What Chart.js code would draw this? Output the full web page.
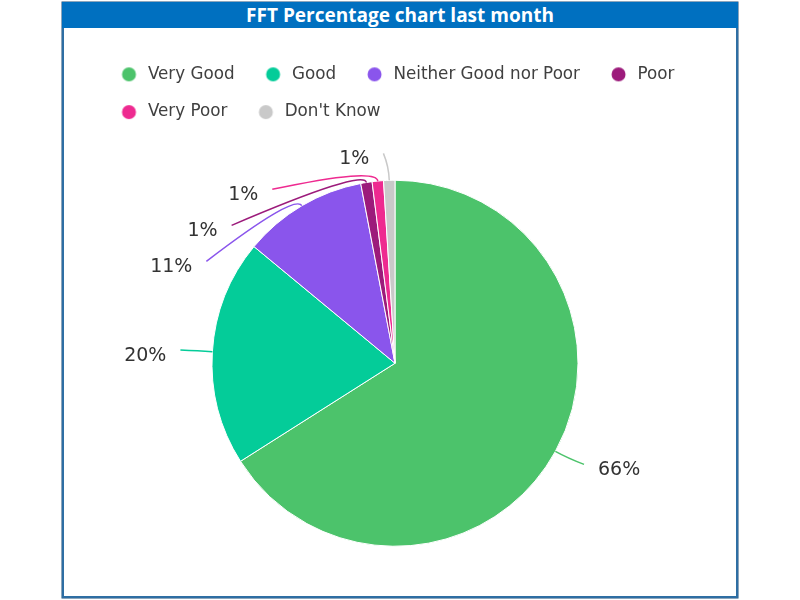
<!DOCTYPE html>
<html>
<head>
<meta charset="utf-8">
<script src="https://cdn.jsdelivr.net/npm/chart.js@4"></script>
<style>
html,body{margin:0;padding:0;width:800px;height:600px;background:#fff;overflow:hidden}
#frame{position:absolute;left:62px;top:2px;width:672px;height:592px;border:2px solid #2e6ea3;box-shadow:0 0 0 0.5px #1b4d78}
#title{position:absolute;left:62px;top:2px;width:676px;height:26px;background:#0070c0;color:#fff;font-family:'Open Sans',sans-serif;font-weight:bold;font-size:19px;text-align:center;line-height:26px}
#wrap{position:absolute;left:0;top:0;width:800px;height:600px}
</style>
</head>
<body>
<div id="frame"></div>
<div id="title">FFT Percentage chart last month</div>
<div id="wrap"><canvas id="c" width="800" height="600"></canvas></div>
<script>
const categories = ['Very Good', 'Good', 'Neither Good nor Poor', 'Poor', 'Very Poor', "Don't Know"];
const percentages = [66, 20, 11, 1, 1, 1];
const colors = ['#4cc36b', '#04cc99', '#8a55ec', '#9c1b7b', '#ee2a90', '#c9c9c9'];

function dotImage(color) {
  const c = document.createElement('canvas');
  c.width = 28; c.height = 16;
  const g = c.getContext('2d');
  g.fillStyle = color;
  g.beginPath();
  g.arc(17.5, 8, 7, 0, Math.PI * 2);
  g.fill();
  return c;
}
const dots = colors.map(dotImage);

// widen the legend row while keeping the pie centred
const legendShift = {
  id: 'legendShift',
  afterLayout(chart) {
    if (chart.legend) { chart.legend.left += 19.5; chart.legend.right += 19.5; }
  }
};

const labelPlugin = {
  id: 'pieLabels',
  afterDatasetsDraw(chart) {
    const ctx = chart.ctx;
    const meta = chart.getDatasetMeta(0);
    const items = meta.data.map((arc, i) => {
      const p = arc.getProps(['x', 'y', 'startAngle', 'endAngle', 'outerRadius'], true);
      const mid = (p.startAngle + p.endAngle) / 2;
      const dx = Math.cos(mid), dy = Math.sin(mid);
      const Rl = p.outerRadius + 27;
      return {i, cx: p.x, cy: p.y, R: p.outerRadius, Rl, dx, dy, y: p.y + dy * Rl, left: dx < 0};
    });
    [true, false].forEach(side => {
      const g = items.filter(it => it.left === side).sort((a, b) => a.y - b.y);
      for (let k = 1; k < g.length; k++) {
        if (g[k].y < g[k - 1].y + 36) g[k].y = g[k - 1].y + 36;
      }
    });
    ctx.save();
    items.forEach(it => {
      const h = it.y - it.cy;
      const w = Math.sqrt(Math.max(it.Rl * it.Rl - h * h, 0));
      const sgn = it.left ? -1 : 1;
      const lx = it.cx + sgn * (w + 5);
      const ly = it.y;
      const ex = it.cx + it.dx * it.R, ey = it.cy + it.dy * it.R;
      const ax = it.cx + it.dx * (it.R + 14), ay = it.cy + it.dy * (it.R + 14);
      ctx.strokeStyle = colors[it.i];
      ctx.lineWidth = 1.5;
      ctx.beginPath();
      ctx.moveTo(ex, ey);
      ctx.quadraticCurveTo(ax, ay, lx, ly);
      ctx.stroke();
      ctx.fillStyle = '#333333';
      ctx.font = '19px "DejaVu Sans"';
      ctx.textBaseline = 'middle';
      ctx.textAlign = it.left ? 'right' : 'left';
      ctx.fillText(percentages[it.i] + '%', lx + sgn * 14, ly + 6);
    });
    ctx.restore();
  }
};

new Chart(document.getElementById('c'), {
  type: 'pie',
  data: {
    labels: categories,
    datasets: [{
      data: percentages,
      backgroundColor: colors,
      borderColor: '#ffffff',
      borderWidth: 1,
      radius: 183
    }]
  },
  options: {
    responsive: false,
    animation: false,
    layout: {padding: {left: 71, right: 81, top: 45, bottom: 4}},
    plugins: {
      tooltip: {enabled: false},
      legend: {
        position: 'top',
        align: 'start',
        labels: {
          usePointStyle: true,
          pointStyleWidth: 28,
          boxHeight: 17,
          padding: 21,
          color: '#404040',
          font: {family: 'DejaVu Sans', size: 16.75},
          generateLabels(chart) {
            const items = Chart.overrides.pie.plugins.legend.labels.generateLabels(chart);
            items.forEach((it, i) => { it.pointStyle = dots[i]; });
            return items;
          }
        }
      }
    }
  },
  plugins: [legendShift, labelPlugin]
});
</script>
</body>
</html>
